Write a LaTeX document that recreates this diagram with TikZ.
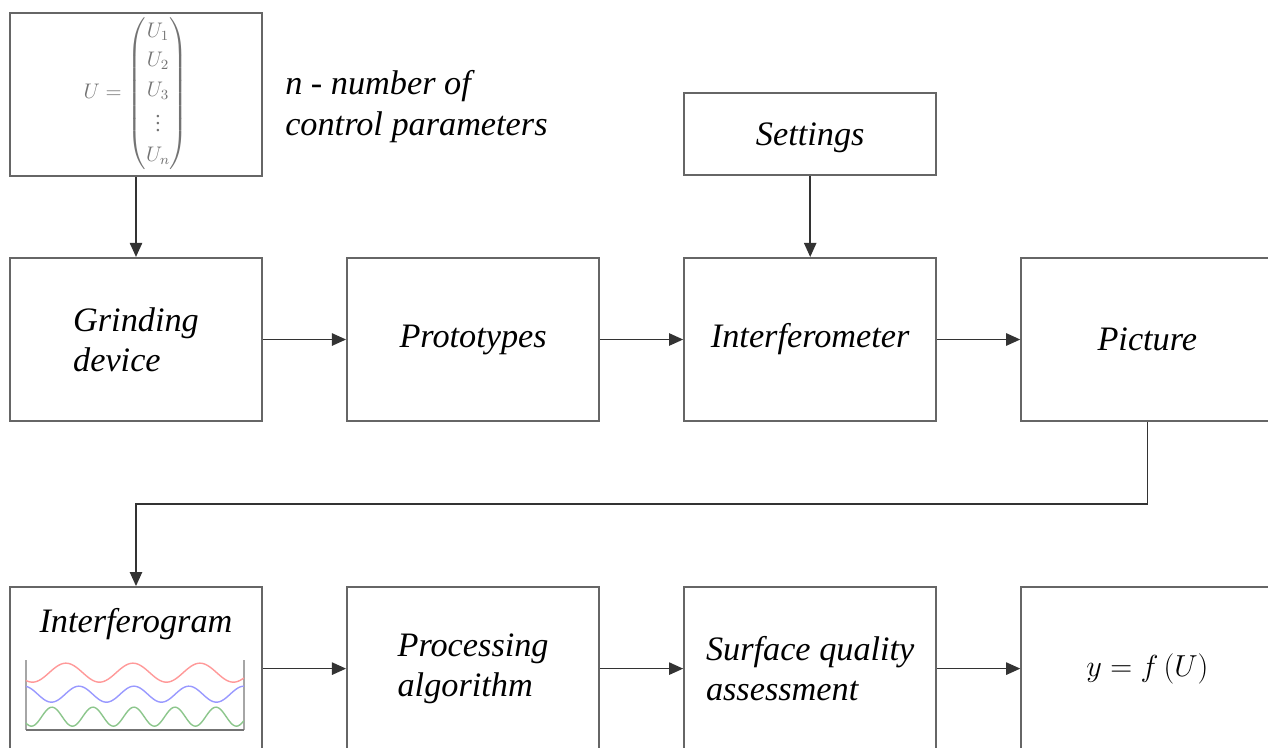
\documentclass[tikz,border=0pt]{standalone}
\usepackage{amsmath}
\usepackage{fontspec}
\setmainfont{Liberation Serif}
\usetikzlibrary{arrows.meta, calc, positioning}

\begin{document}
\begin{tikzpicture}[>={Stealth[length=8pt, width=7pt, inset=0pt]},
    tekst/.style={font=\fontsize{19.5}{23}\selectfont\itshape, align=left},
    blok/.style={tekst, draw=black!60, line width=1.2pt, minimum width=5.04cm,
        minimum height=3.26cm, inner sep=0pt},
    pijl/.style={->, draw=black!80, line width=0.9pt},
    node distance=1.66cm]

    \useasboundingbox (0,0) rectangle (25.36,-14.94);

    % =================================================================
    % 1. CONTROL VECTOR AND SETTINGS
    % =================================================================
    \node[blok] (ubox) at (2.72,-1.89) {};
    \node[text=black!55, inner sep=0pt] (uvec) at ($(ubox.center)+(0,0.02)$)
        {\large\renewcommand{\arraystretch}{1.2}%
         $U=\begin{pmatrix}U_1\\U_2\\U_3\\\vdots\\U_n\end{pmatrix}$};
    \node[tekst, anchor=west] (nnote) at ($(ubox.east)+(0.32,-0.24)$)
        {n - number of\\control parameters};

    % =================================================================
    % 2. FIRST ROW
    % =================================================================
    \node[blok] (grind) at (2.72,-6.79) {Grinding\\device};
    \node[blok, right=of grind] (proto) {Prototypes};
    \node[blok, right=of proto] (interf) {Interferometer};
    \node[blok, right=of interf] (pic) {Picture};
    \node[blok, minimum height=1.64cm, above=1.62cm of interf,
        text depth=0pt] (settings) {Settings};

    % =================================================================
    % 3. SECOND ROW
    % =================================================================
    \node[blok, below=3.28cm of grind] (igram) {};
    \node[tekst] (igramlbl) at ($(igram.north)+(0,-0.76)$) {Interferogram};
    \node[blok, right=of igram] (proc) {Processing\\algorithm};
    \node[blok, right=of proc] (assess) {Surface quality\\assessment};
    \node[blok, right=of assess] (func) {\LARGE $y = f\,(U)$};

    % small interferogram plot
    \begin{scope}[shift={(igram.south west)}]
        \draw[black!35, line width=0.8pt] (0.34,1.82) -- (0.34,0.42);
        \draw[black!35, line width=0.8pt] (4.70,1.82) -- (4.70,0.42);
        \draw[black!55, line width=1.2pt] (0.34,0.42) -- (4.70,0.42);
        \draw[red!40, line width=0.8pt, domain=0.34:4.70, samples=150]
            plot (\x, {1.57+0.19*cos(360*(\x-1.14)/1.34)});
        \draw[blue!40, line width=0.8pt, domain=0.34:4.70, samples=150]
            plot (\x, {1.14+0.16*cos(360*(\x-1.40)/1.1)});
        \draw[green!50!black!45, line width=0.8pt, domain=0.34:4.70, samples=150]
            plot (\x, {0.69+0.19*cos(360*(\x-0.86)/0.82)});
    \end{scope}

    % =================================================================
    % 4. CONNECTORS
    % =================================================================
    \draw[pijl] (ubox) -- (grind);
    \draw[pijl] (settings) -- (interf);
    \draw[pijl] (grind) -- (proto);
    \draw[pijl] (proto) -- (interf);
    \draw[pijl] (interf) -- (pic);
    \draw[pijl] (pic.south) -- ++(0,-1.64) -| (igram.north);
    \draw[pijl] (igram) -- (proc);
    \draw[pijl] (proc) -- (assess);
    \draw[pijl] (assess) -- (func);

\end{tikzpicture}
\end{document}
